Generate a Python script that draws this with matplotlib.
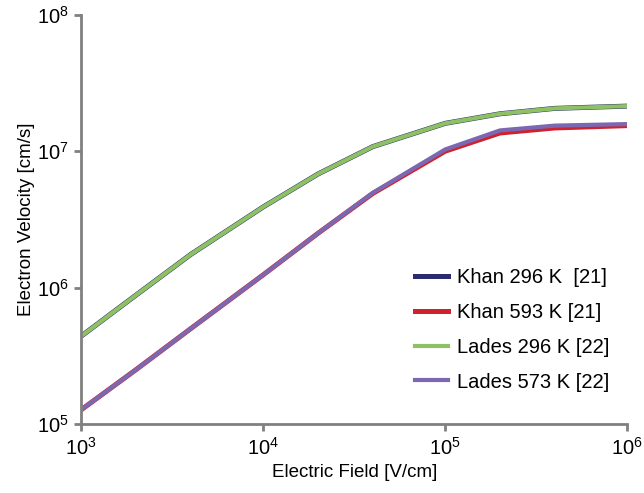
import numpy as np
import matplotlib.pyplot as plt

plt.rcParams['font.family'] = ['Liberation Sans', 'DejaVu Sans']
plt.rcParams['mathtext.default'] = 'regular'

# electric field points [V/cm]
field = [1e3, 2e3, 4e3, 1e4, 2e4, 4e4, 1e5, 2e5, 4e5, 1e6]

# electron velocity [cm/s]
khan_296 = [4.4e5, 8.8e5, 1.75e6, 3.9e6, 6.8e6, 1.08e7, 1.6e7, 1.88e7, 2.06e7, 2.14e7]
khan_593 = [1.27e5, 2.5e5, 5.0e5, 1.24e6, 2.5e6, 4.9e6, 1.0e7, 1.36e7, 1.48e7, 1.54e7]
lades_296 = [4.4e5, 8.8e5, 1.75e6, 3.9e6, 6.8e6, 1.08e7, 1.6e7, 1.88e7, 2.06e7, 2.14e7]
lades_573 = [1.27e5, 2.5e5, 5.0e5, 1.24e6, 2.5e6, 4.95e6, 1.03e7, 1.42e7, 1.54e7, 1.58e7]

fig = plt.figure(figsize=(6.44, 4.93), dpi=100)
ax = fig.add_axes([0.126, 0.14, 0.848, 0.83])

ax.loglog(field, khan_296, color='#2b2b6e', lw=3.6, label='Khan 296 K  [21]')
ax.loglog(field, khan_593, color='#d0222e', lw=3.6, label='Khan 593 K [21]')
ax.loglog(field, lades_296, color='#8dc163', lw=3.0, label='Lades 296 K [22]')
ax.loglog(field, lades_573, color='#7c68b0', lw=3.0, label='Lades 573 K [22]')

ax.set_xlim(1e3, 1e6)
ax.set_ylim(1e5, 1e8)

for side in ['top', 'right']:
    ax.spines[side].set_visible(False)
for side in ['left', 'bottom']:
    ax.spines[side].set_color('#808080')
    ax.spines[side].set_linewidth(2)

ax.tick_params(which='major', direction='out', length=5, width=2, color='#808080',
               labelsize=14.5, pad=4)
ax.tick_params(which='minor', length=0)
ax.minorticks_off()

ax.set_xlabel('Electric Field [V/cm]', fontsize=13.5, labelpad=4)
ax.set_ylabel('Electron Velocity [cm/s]', fontsize=13.5, labelpad=1)

leg = ax.legend(loc='lower right', frameon=False, fontsize=14.5, handlelength=1.6,
                handletextpad=0.45, labelspacing=0.78, bbox_to_anchor=(1.0, 0.035))

fig.savefig('out.png', dpi=100)
